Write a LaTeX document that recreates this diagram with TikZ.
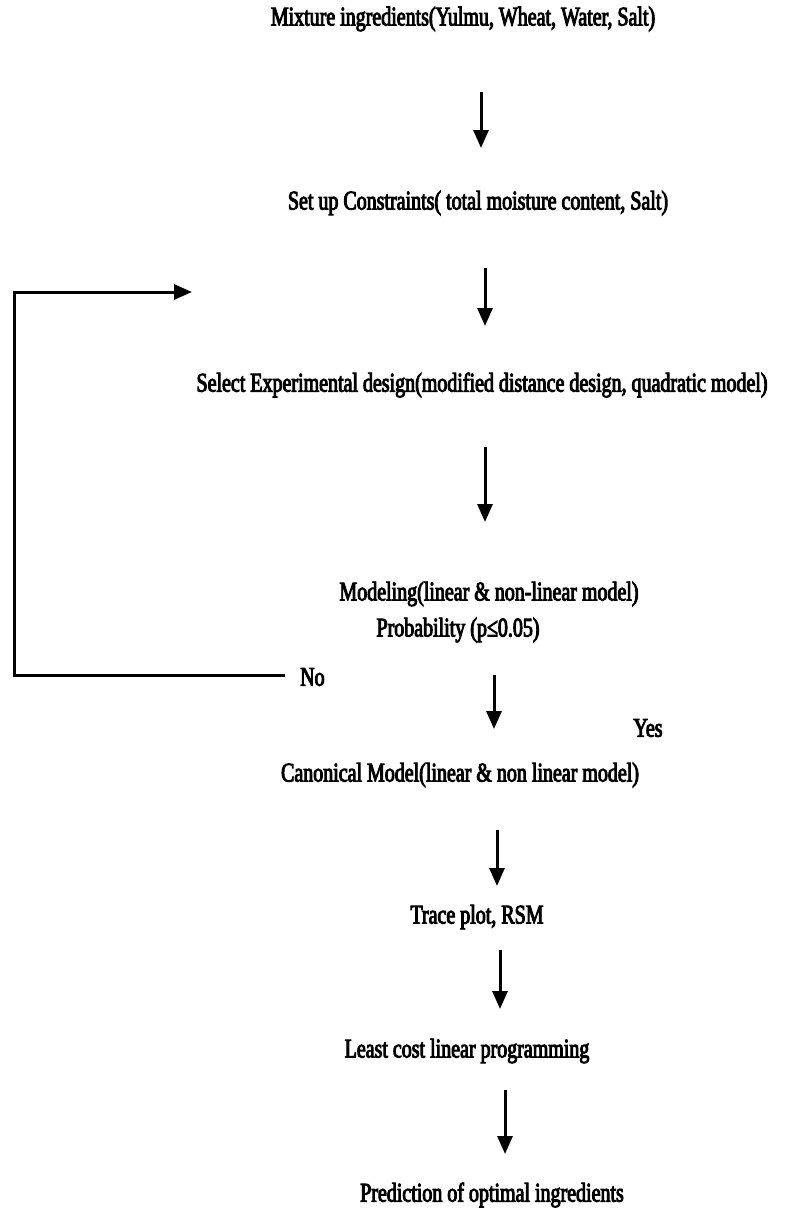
\documentclass[tikz,border=0pt]{standalone}
\usepackage{fontspec}
\setmainfont{Liberation Serif}[FakeStretch=0.74,FakeBold=3.5]
\usetikzlibrary{arrows.meta}
\tikzset{
  lbl/.style={inner sep=0pt, font=\fontsize{27}{29}\selectfont},
  flow/.style={line width=3pt, -{Triangle[length=18pt,width=15pt]}},
  back/.style={line width=3pt}
}
\begin{document}
\begin{tikzpicture}[x=1pt,y=-1pt]
        \useasboundingbox (0,0) rectangle (790,1211);
        % steps
        \node[lbl] (mix) at (463,19) {Mixture ingredients(Yulmu, Wheat, Water, Salt)};
        \node[lbl] (cons) at (478,203) {Set up Constraints( total moisture content, Salt)};
        \node[lbl] (design) at (482,385) {Select Experimental design(modified distance design, quadratic model)};
        \node[lbl] (model) at (489,594) {Modeling(linear \& non-linear model)};
        \node[lbl] (prob) at (458,630) {Probability (p≤0.05)};
        \node[lbl] (canon) at (460,775) {Canonical Model(linear \& non linear model)};
        \node[lbl] (trace) at (477,917) {Trace plot, RSM};
        \node[lbl] (lcost) at (467,1051) {Least cost linear programming};
        \node[lbl] (pred) at (492,1195) {Prediction of optimal ingredients};
        \node[lbl, anchor=west] (no) at (300,677) {No};
        \node[lbl] (yes) at (648,728) {Yes};
        % arrow ends
        \coordinate (a1) at (481,92);  \coordinate (b1) at (481,148);
        \coordinate (a2) at (485,268); \coordinate (b2) at (485,326);
        \coordinate (a3) at (485,447); \coordinate (b3) at (485,522);
        \coordinate (a4) at (494,675); \coordinate (b4) at (494,729);
        \coordinate (a5) at (497,830); \coordinate (b5) at (497,886);
        \coordinate (a6) at (500,950); \coordinate (b6) at (500,1009);
        \coordinate (a7) at (505,1090); \coordinate (b7) at (505,1154);
        \foreach \i in {1,...,7} {
            \draw[flow] (a\i) -- (b\i);
        }
        % loop back when No
        \coordinate (nostart) at (285,675);
        \coordinate (backtip) at (192,292);
        \draw[back] (nostart) -- (14,675) -- (14,292);
        \draw[flow] (12.5,292) -- (backtip);
\end{tikzpicture}
\end{document}
